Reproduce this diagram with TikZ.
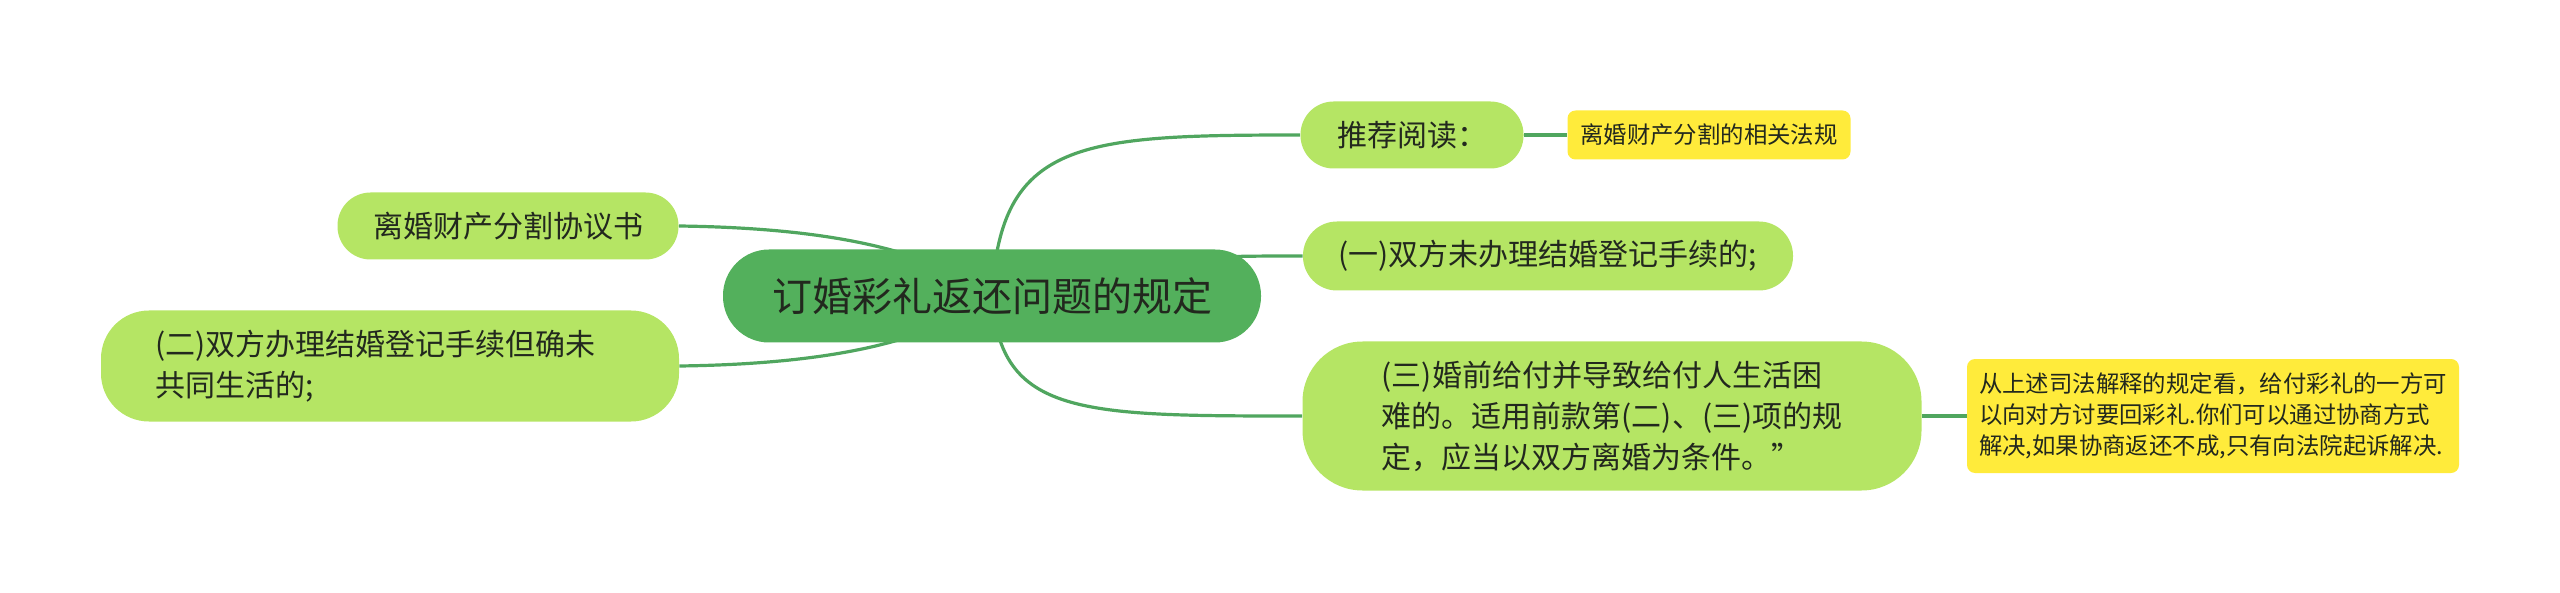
\documentclass[tikz,border=0pt]{standalone}
\usepackage{fontspec}
\newfontfamily\cjk{Noto Sans CJK SC}
\usetikzlibrary{backgrounds}
\definecolor{rootgreen}{RGB}{83,176,92}
\definecolor{leafgreen}{RGB}{181,229,100}
\definecolor{noteyellow}{RGB}{255,235,59}
\definecolor{linkgreen}{RGB}{80,166,95}
\definecolor{inkdark}{RGB}{34,40,30}
\begin{document}
\begin{tikzpicture}[x=0.5pt,y=-0.5pt,
  rootbox/.style={fill=rootgreen, rounded corners=23pt, minimum width=269pt,
    minimum height=46.5pt, inner sep=0pt, text=inkdark,
    font=\cjk\fontsize{20pt}{24pt}\selectfont},
  topic/.style={fill=leafgreen, inner sep=0pt, text=inkdark, align=left,
    font=\cjk\fontsize{15pt}{20.5pt}\selectfont},
  note/.style={fill=noteyellow, rounded corners=4pt, inner sep=0pt, text=inkdark,
    align=left, font=\cjk\fontsize{11.7pt}{15.5pt}\selectfont},
  link/.style={draw=linkgreen, line width=1.6pt}]
\useasboundingbox (0,0) rectangle (2560,593);
% central topic
\node[rootbox] (root) at (992,296) {订婚彩礼返还问题的规定};
% right side
\node[topic, rounded corners=16.5pt, minimum width=111.5pt, minimum height=33.5pt]
  (read) at (1412,135) {推荐阅读：};
\node[note, minimum width=141.5pt, minimum height=24.5pt]
  (lawref) at (1709,135) {离婚财产分割的相关法规};
\node[topic, rounded corners=17pt, minimum width=245pt, minimum height=34.5pt]
  (first) at (1548,256) {(一)双方未办理结婚登记手续的;};
\node[topic, rounded corners=30pt, minimum width=309.5pt, minimum height=74.5pt]
  (third) at (1612,416) {(三)婚前给付并导致给付人生活困\\难的。适用前款第(二)、(三)项的规\\定，应当以双方离婚为条件。”};
\node[note, minimum width=246pt, minimum height=57pt]
  (advice) at (2213,416) {从上述司法解释的规定看，给付彩礼的一方可\\以向对方讨要回彩礼.你们可以通过协商方式\\解决,如果协商返还不成,只有向法院起诉解决.};
% left side
\node[topic, rounded corners=16.5pt, minimum width=170.5pt, minimum height=33.5pt]
  (deal) at (508,226) {离婚财产分割协议书};
\node[topic, rounded corners=24pt, minimum width=289pt, minimum height=55.5pt,
  text width=235pt] (second) at (390,366) {(二)双方办理结婚登记手续但确未\\共同生活的;};
% connectors
\begin{scope}[on background layer]
\draw[link] (root.center) .. controls (1000,140) and (1080,135) .. (read.west);
\draw[link] (root.center) .. controls (1120,256) and (1200,256) .. (first.west);
\draw[link] (root.center) .. controls (1000,416) and (1080,416) .. (third.west);
\draw[link] (root.center) .. controls (930,250) and (830,228) .. (deal.east);
\draw[link] (root.center) .. controls (930,342) and (830,364) .. (second.east);
\draw[link] (read.east) -- (lawref.west);
\draw[link] (third.east) -- (advice.west);
\end{scope}
\end{tikzpicture}
\end{document}
